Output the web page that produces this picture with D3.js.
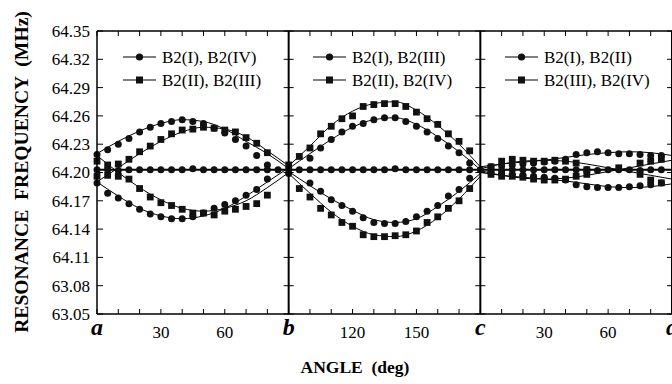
<!DOCTYPE html>
<html>
<head>
<meta charset="utf-8">
<script src="https://cdn.jsdelivr.net/npm/d3@7"></script>
<style>
  body { margin: 0; background: #fff; }
  svg { display: block; font-family: "Liberation Serif", "DejaVu Serif", serif; }
</style>
</head>
<body>
<svg id="chart" width="672" height="384"></svg>
<script>
// tick labels as printed in the figure
const yTickValues = [64.05, 64.08, 64.11, 64.14, 64.17, 64.20, 64.23, 64.26, 64.29, 64.32, 64.35];
const yTickLabels = ['63.05', '63.08', '64.11', '64.14', '64.17', '64.20', '64.23', '64.26', '64.29', '64.32', '64.35'];
const xTickValues = [0, 30, 60, 90, 120, 150, 180, 210, 240, 270];
const xTickLabels = ['a', '30', '60', 'b', '120', '150', 'c', '30', '60', 'd'];
const panelEdges = [0, 90, 180, 270];
const legendLabels = [
  ['B2(I), B2(IV)', 'B2(II), B2(III)'],
  ['B2(I), B2(III)', 'B2(II), B2(IV)'],
  ['B2(I), B2(II)', 'B2(III), B2(IV)']
];

// measured points [angle, MHz]; circles = first legend entry, squares = second
const circles1 = [
  [0, 64.219], [5, 64.224], [10, 64.230], [15, 64.236], [20, 64.243], [25, 64.248], [30, 64.252], [35, 64.254],
  [40, 64.256], [45, 64.254], [50, 64.252], [55, 64.247], [60, 64.242], [65, 64.235], [70, 64.228], [75, 64.218], [80, 64.208],
  [0, 64.203], [5, 64.203], [10, 64.202], [15, 64.203], [20, 64.203], [25, 64.203], [30, 64.203], [35, 64.203], [40, 64.203],
  [45, 64.204], [50, 64.203], [55, 64.203], [60, 64.203], [65, 64.203], [70, 64.203], [75, 64.203], [80, 64.203], [85, 64.203],
  [0, 64.189], [5, 64.178], [10, 64.173], [15, 64.167], [20, 64.161], [25, 64.156], [30, 64.153], [35, 64.151],
  [40, 64.151], [45, 64.153], [50, 64.157], [55, 64.162], [60, 64.166], [65, 64.170], [70, 64.176], [75, 64.182], [80, 64.193]
];
const squares1 = [
  [0, 64.196], [5, 64.208], [10, 64.209], [15, 64.214], [20, 64.222], [25, 64.228], [30, 64.235], [35, 64.241],
  [40, 64.245], [45, 64.246], [50, 64.248], [55, 64.247], [60, 64.245], [65, 64.243], [70, 64.237], [75, 64.231], [80, 64.221],
  [0, 64.212], [5, 64.197], [10, 64.196], [15, 64.193], [20, 64.183], [25, 64.174], [30, 64.168], [35, 64.165],
  [40, 64.161], [45, 64.157], [50, 64.157], [55, 64.155], [60, 64.159], [65, 64.161], [70, 64.164], [75, 64.167], [80, 64.176]
];
const circles2 = [
  [100, 64.215], [105, 64.226], [110, 64.235], [115, 64.243], [120, 64.249], [125, 64.252], [130, 64.256], [135, 64.258],
  [140, 64.258], [145, 64.254], [150, 64.249], [155, 64.243], [160, 64.236], [165, 64.228], [170, 64.221], [175, 64.210],
  [90, 64.203], [95, 64.203], [100, 64.203], [105, 64.203], [110, 64.203], [115, 64.203], [120, 64.203], [125, 64.203], [130, 64.203],
  [135, 64.203], [140, 64.204], [145, 64.203], [150, 64.203], [155, 64.203], [160, 64.203], [165, 64.203], [170, 64.203], [175, 64.203],
  [90, 64.199], [100, 64.189], [105, 64.180], [110, 64.171], [115, 64.165], [120, 64.159], [125, 64.152], [130, 64.147], [135, 64.146],
  [140, 64.146], [145, 64.148], [150, 64.153], [155, 64.159], [160, 64.165], [165, 64.175], [170, 64.182], [175, 64.194]
];
const squares2 = [
  [90, 64.208], [95, 64.217], [100, 64.226], [105, 64.241], [110, 64.249], [115, 64.257], [120, 64.260], [125, 64.270], [130, 64.272],
  [135, 64.273], [140, 64.273], [145, 64.270], [150, 64.264], [155, 64.257], [160, 64.251], [165, 64.241], [170, 64.233], [175, 64.223],
  [95, 64.183], [100, 64.174], [105, 64.162], [110, 64.155], [115, 64.147], [120, 64.143], [125, 64.134], [130, 64.132], [135, 64.132],
  [140, 64.133], [145, 64.134], [150, 64.138], [155, 64.147], [160, 64.153], [165, 64.162], [170, 64.170], [175, 64.183]
];
const circles3 = [
  [185, 64.206], [190, 64.207], [195, 64.208], [200, 64.209], [205, 64.210], [210, 64.211], [215, 64.212], [220, 64.214],
  [225, 64.219], [230, 64.221], [235, 64.222], [240, 64.221], [245, 64.220], [250, 64.220], [255, 64.219], [260, 64.218], [265, 64.218],
  [180, 64.203], [185, 64.203], [190, 64.202], [195, 64.203], [200, 64.203], [205, 64.203], [210, 64.203], [215, 64.203], [220, 64.203],
  [225, 64.203], [230, 64.203], [235, 64.202], [240, 64.203], [245, 64.203], [250, 64.203], [255, 64.202], [260, 64.203], [265, 64.203],
  [185, 64.200], [190, 64.199], [195, 64.198], [200, 64.197], [205, 64.196], [210, 64.195], [215, 64.194], [220, 64.192],
  [225, 64.187], [230, 64.185], [235, 64.184], [240, 64.184], [245, 64.184], [250, 64.185], [255, 64.186], [260, 64.187], [265, 64.189]
];
const squares3 = [
  [185, 64.206], [190, 64.212], [195, 64.214], [200, 64.213], [205, 64.212], [210, 64.212], [215, 64.213], [220, 64.212], [225, 64.210],
  [230, 64.203], [245, 64.205], [255, 64.210], [260, 64.212], [265, 64.214],
  [185, 64.198], [190, 64.196], [195, 64.196], [200, 64.195], [205, 64.193], [210, 64.192], [215, 64.192], [220, 64.193], [225, 64.196],
  [230, 64.198], [255, 64.198], [260, 64.192], [265, 64.189]
];

// fitted curves, read every 10 deg
const fitAngles1 = [0, 10, 20, 30, 40, 50, 60, 70, 80, 90];
const fitAngles2 = [90, 100, 110, 120, 130, 140, 150, 160, 170, 180];
const fitAngles3 = [180, 190, 200, 210, 220, 230, 240, 250, 260, 270];
const fits1 = [
  [64.220, 64.233, 64.244, 64.252, 64.256, 64.254, 64.246, 64.233, 64.220, 64.204],
  [64.190, 64.175, 64.162, 64.154, 64.151, 64.154, 64.162, 64.175, 64.190, 64.205],
  [64.190, 64.205, 64.220, 64.233, 64.243, 64.248, 64.246, 64.238, 64.223, 64.207],
  [64.218, 64.200, 64.184, 64.171, 64.162, 64.159, 64.162, 64.170, 64.184, 64.200]
];
const fits2 = [
  [64.207, 64.228, 64.250, 64.265, 64.273, 64.275, 64.266, 64.250, 64.230, 64.206],
  [64.204, 64.220, 64.235, 64.248, 64.256, 64.258, 64.251, 64.238, 64.222, 64.203],
  [64.201, 64.186, 64.172, 64.160, 64.150, 64.147, 64.151, 64.164, 64.180, 64.199],
  [64.199, 64.178, 64.158, 64.143, 64.134, 64.132, 64.138, 64.152, 64.172, 64.196]
];
const fits3 = [
  [64.206, 64.209, 64.211, 64.213, 64.216, 64.219, 64.221, 64.222, 64.221, 64.218],
  [64.200, 64.197, 64.195, 64.193, 64.191, 64.188, 64.185, 64.184, 64.185, 64.188],
  [64.204, 64.209, 64.212, 64.213, 64.212, 64.209, 64.205, 64.201, 64.197, 64.193],
  [64.202, 64.197, 64.194, 64.193, 64.194, 64.197, 64.201, 64.205, 64.209, 64.213]
];
const baseLevel = 64.203;

const svg = d3.select('#chart');
const margin = {top: 31, right: 0, bottom: 70, left: 97};
const width = 672, height = 384;

const x = d3.scaleLinear().domain([0, 270]).range([margin.left, width - margin.right]);
const y = d3.scaleLinear().domain([64.05, 64.35]).range([height - margin.bottom, margin.top]);

// fitted lines
const line = d3.line().x((d) => x(d[0])).y((d) => y(d[1])).curve(d3.curveMonotoneX);
const fitGroups = [[fitAngles1, fits1], [fitAngles2, fits2], [fitAngles3, fits3]];
fitGroups.forEach(([angles, fits]) => {
  fits.forEach((vals) => {
    svg.append('path')
      .attr('d', line(angles.map((a, i) => [a, vals[i]])))
      .attr('fill', 'none').attr('stroke', '#000').attr('stroke-width', 1);
  });
});
svg.append('line')
  .attr('x1', x(0)).attr('x2', x(270))
  .attr('y1', y(baseLevel)).attr('y2', y(baseLevel))
  .attr('stroke', '#000').attr('stroke-width', 2);

// markers
const allCircles = circles1.concat(circles2, circles3);
const allSquares = squares1.concat(squares2, squares3);
svg.append('g').selectAll('circle').data(allCircles).enter().append('circle')
  .attr('cx', (d) => x(d[0])).attr('cy', (d) => y(d[1])).attr('r', 3.5).attr('fill', '#111');
const sq = 6.8;
svg.append('g').selectAll('rect').data(allSquares).enter().append('rect')
  .attr('x', (d) => x(d[0]) - sq / 2).attr('y', (d) => y(d[1]) - sq / 2)
  .attr('width', sq).attr('height', sq).attr('fill', '#111');

// frame + panel dividers
const frame = svg.append('g').attr('stroke', '#000').attr('fill', 'none');
frame.append('line').attr('x1', x(0)).attr('x2', x(270)).attr('y1', y(64.35)).attr('y2', y(64.35)).attr('stroke-width', 1.5);
frame.append('line').attr('x1', x(0)).attr('x2', x(270)).attr('y1', y(64.05)).attr('y2', y(64.05)).attr('stroke-width', 1.5);
panelEdges.forEach((a) => {
  frame.append('line').attr('x1', x(a)).attr('x2', x(a)).attr('y1', y(64.35)).attr('y2', y(64.05))
    .attr('stroke-width', a === 0 ? 1.5 : 2);
});

// ticks: every 10 deg on top and bottom, every 0.03 on each vertical line
const minorX = d3.range(0, 271, 10);
minorX.forEach((a) => {
  frame.append('line').attr('x1', x(a)).attr('x2', x(a)).attr('y1', y(64.05)).attr('y2', y(64.05) - 5);
  frame.append('line').attr('x1', x(a)).attr('x2', x(a)).attr('y1', y(64.35)).attr('y2', y(64.35) + 5);
});
yTickValues.forEach((v) => {
  panelEdges.forEach((a) => {
    const len = a === 0 ? 6 : 5;
    frame.append('line').attr('x1', x(a) - (a === 0 ? 0 : len)).attr('x2', x(a) + len)
      .attr('y1', y(v)).attr('y2', y(v));
  });
});

// y tick labels
svg.append('g').selectAll('text').data(yTickValues).enter().append('text')
  .attr('x', margin.left - 7).attr('y', (d) => y(d)).attr('dy', '0.35em')
  .attr('text-anchor', 'end').attr('font-size', 17)
  .text((d, i) => yTickLabels[i]);

// x tick labels
svg.append('g').selectAll('text').data(xTickValues).enter().append('text')
  .attr('x', (d) => x(d)).attr('y', (d, i) => (i % 3 === 0 ? 335 : 338))
  .attr('text-anchor', 'middle')
  .attr('font-size', (d, i) => (i % 3 === 0 ? 24 : 17))
  .attr('font-weight', (d, i) => (i % 3 === 0 ? 'bold' : 'normal'))
  .attr('font-style', (d, i) => (i % 3 === 0 ? 'italic' : 'normal'))
  .text((d, i) => xTickLabels[i]);

// axis titles
svg.append('text')
  .attr('x', 355).attr('y', 373).attr('text-anchor', 'middle')
  .attr('font-size', 17.5).attr('font-weight', 'bold')
  .attr('xml:space', 'preserve')
  .text('ANGLE  (deg)');
const yTitle = svg.append('text')
  .attr('transform', 'translate(28,172) rotate(-90)')
  .attr('text-anchor', 'middle')
  .attr('font-size', 17).attr('font-weight', 'bold')
  .attr('xml:space', 'preserve')
  .text('RESONANCE  FREQUENCY  (MHz)');
// scale the font so the title spans the same height as in the figure
const titleLen = yTitle.node().getComputedTextLength();
yTitle.attr('font-size', 17 * 322 / titleLen);

// legends
const legendX = [123, 313, 505];
legendLabels.forEach((labels, p) => {
  labels.forEach((label, r) => {
    const ly = 57 + r * 23;
    const g = svg.append('g').attr('transform', 'translate(' + legendX[p] + ',' + ly + ')');
    g.append('line').attr('x1', 0).attr('x2', 33).attr('y1', 0).attr('y2', 0).attr('stroke', '#000').attr('stroke-width', 1.2);
    if (r === 0) {
      g.append('circle').attr('cx', 16.5).attr('cy', 0).attr('r', 3.6).attr('fill', '#111');
    } else {
      g.append('rect').attr('x', 16.5 - 3.5).attr('y', -3.5).attr('width', 7).attr('height', 7).attr('fill', '#111');
    }
    g.append('text').attr('x', 39).attr('y', 0).attr('dy', '0.35em').attr('font-size', 17).text(label);
  });
});
</script>
</body>
</html>
